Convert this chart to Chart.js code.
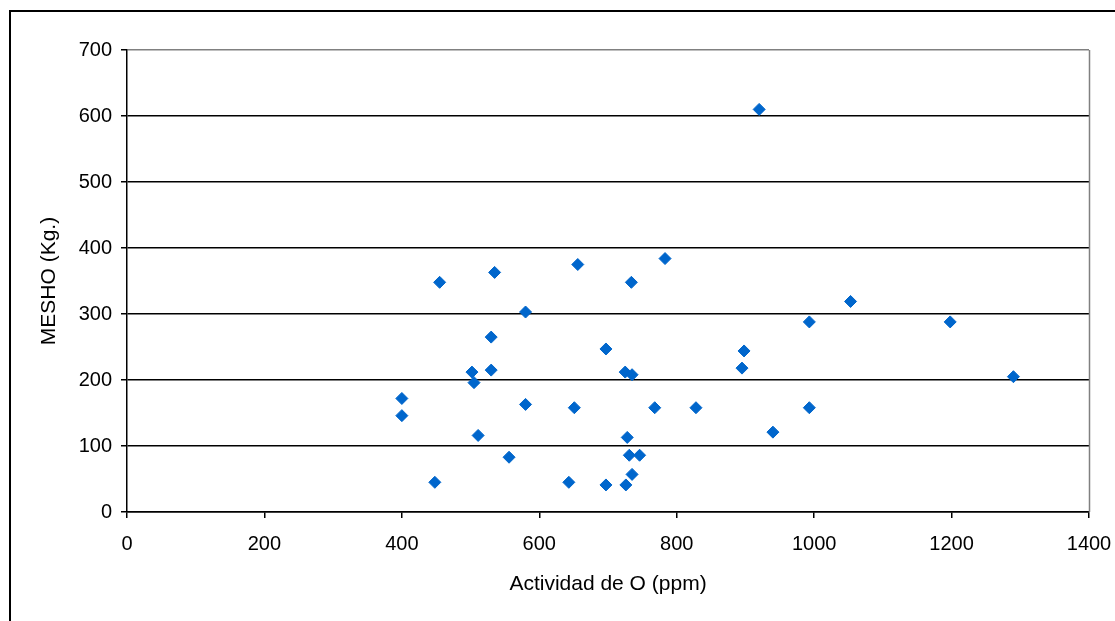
<!DOCTYPE html>
<html>
<head>
<meta charset="utf-8">
<script src="https://cdn.jsdelivr.net/npm/chart.js@4/dist/chart.umd.min.js"></script>
<style>
  html, body { margin: 0; padding: 0; background: #fff; }
  #wrap { width: 1115px; height: 621px; position: relative; }
</style>
</head>
<body>
<div id="wrap"><canvas id="scatterChart"></canvas></div>
<script>
// Actividad de O (ppm)
const actividadO = [400, 400, 455, 535, 656, 734, 783, 580, 530, 697,
                    502, 530, 505, 725, 735, 580, 651, 768, 828, 511,
                    728, 556, 731, 746, 735, 448, 643, 697, 726, 1053,
                    993, 1198, 898, 895, 993, 940, 920, 1290];
// MESHO (Kg.)
const mesho = [172, 146, 348, 363, 375, 348, 384, 303, 265, 247,
               212, 215, 196, 212, 208, 163, 158, 158, 158, 116,
               113, 83, 86, 86, 57, 45, 45, 41, 41, 319,
               288, 288, 244, 218, 158, 121, 610, 205];

const xTicks = [0, 200, 400, 600, 800, 1000, 1200, 1400];
const yTicks = [0, 100, 200, 300, 400, 500, 600, 700];

const points = actividadO.map((x, i) => ({ x: x, y: mesho[i] }));

// frame around the whole chart + gray plot border on the right
const framePlugin = {
    id: 'frame',
    beforeDraw(chart) {
        const c = chart.ctx;
        c.save();
        c.fillStyle = '#fff';
        c.fillRect(0, 0, chart.width, chart.height);
        c.restore();
    },
    afterDraw(chart) {
        const c = chart.ctx;
        const a = chart.chartArea;
        c.save();
        c.strokeStyle = '#808080';
        c.lineWidth = 1.5;
        c.beginPath();
        c.moveTo(a.right + 0.5, a.top);
        c.lineTo(a.right + 0.5, a.bottom);
        c.stroke();
        c.strokeStyle = '#000';
        c.lineWidth = 2;
        c.strokeRect(10, 11, 2000, 2000);
        c.restore();
    }
};

const ctx = document.getElementById('scatterChart').getContext('2d');
new Chart(ctx, {
    type: 'scatter',
    data: {
        datasets: [{
            label: 'MESHO',
            data: points,
            pointStyle: 'rectRot',
            pointRadius: 6,
            pointHoverRadius: 6,
            backgroundColor: '#0066cc',
            borderColor: '#0066cc',
            borderWidth: 1
        }]
    },
    options: {
        responsive: true,
        maintainAspectRatio: false,
        animation: false,
        layout: { padding: { top: 50, right: 26, left: 0, bottom: 0 } },
        plugins: {
            legend: { display: false },
            tooltip: { enabled: false }
        },
        scales: {
            x: {
                type: 'linear',
                min: 0,
                max: 1400,
                afterBuildTicks(scale) { scale.ticks = xTicks.map(v => ({ value: v })); },
                afterFit(scale) {
                    scale.height = 109;
                    scale.paddingRight = 0;
                    scale.paddingLeft = 0;
                },
                ticks: {
                    color: '#000',
                    padding: 14,
                    maxRotation: 0,
                    callback: v => String(v),
                    font: { family: 'Liberation Sans, Arial, sans-serif', size: 20 }
                },
                grid: {
                    drawOnChartArea: false,
                    drawTicks: true,
                    tickLength: 6,
                    color: '#000',
                    lineWidth: 1.5
                },
                border: { color: '#000', width: 1.5 },
                title: {
                    display: true,
                    text: 'Actividad de O (ppm)',
                    color: '#000',
                    padding: { top: 0, bottom: 24 },
                    font: { family: 'Liberation Sans, Arial, sans-serif', size: 21 }
                }
            },
            y: {
                type: 'linear',
                min: 0,
                max: 700,
                afterBuildTicks(scale) { scale.ticks = yTicks.map(v => ({ value: v })); },
                afterFit(scale) { scale.width = 127; },
                ticks: {
                    color: '#000',
                    padding: 9,
                    callback: v => String(v),
                    font: { family: 'Liberation Sans, Arial, sans-serif', size: 20 }
                },
                grid: {
                    color: c => (c.tick && c.tick.value === 700) ? '#808080' : '#000',
                    tickColor: '#000',
                    tickLength: 6,
                    lineWidth: 1.5
                },
                border: { color: '#000', width: 1.5 },
                title: {
                    display: true,
                    text: 'MESHO (Kg.)',
                    color: '#000',
                    padding: { top: 37, bottom: 0 },
                    font: { family: 'Liberation Sans, Arial, sans-serif', size: 21 }
                }
            }
        }
    },
    plugins: [framePlugin]
});
</script>
</body>
</html>
